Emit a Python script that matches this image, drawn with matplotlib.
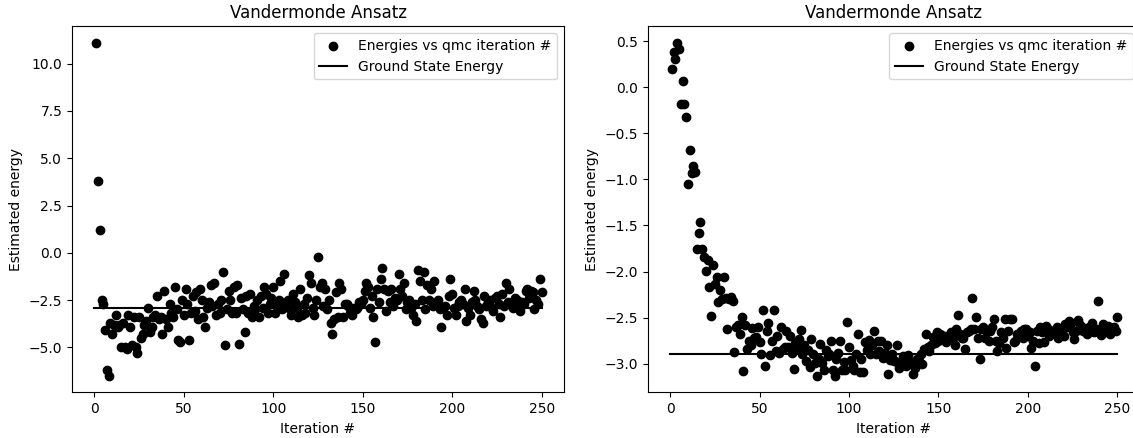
import numpy as np
import matplotlib
matplotlib.use("Agg")
import matplotlib.pyplot as plt

ground_state = -2.9
title = "Vandermonde Ansatz"
xlabel = "Iteration #"
ylabel = "Estimated energy"
scatter_label = "Energies vs qmc iteration #"
line_label = "Ground State Energy"

energies_left = [
    11.1, 3.8, 1.2, -2.5, -2.7, -4.1, -6.2, -6.5, -3.7, -4.3,
    -3.8, -3.3, -3.9, -3.8, -5.0, -3.7, -5.0, -5.1, -3.3, -3.9,
    -4.9, -3.4, -5.0, -5.3, -3.4, -4.5, -4.3, -3.8, -3.6, -2.9,
    -4.2, -3.9, -3.4, -3.3, -2.3, -3.5, -3.4, -4.3, -2.0, -3.5,
    -3.9, -2.7, -3.2, -3.4, -1.8, -3.0, -4.6, -4.7, -2.5, -3.3,
    -1.9, -2.7, -4.6, -3.2, -2.3, -3.1, -2.1, -3.5, -1.9, -2.5,
    -3.4, -3.9, -2.9, -2.6, -1.7, -2.8, -1.6, -3.3, -2.7, -3.2,
    -2.5, -1.0, -4.9, -3.0, -2.0, -2.5, -3.2, -1.8, -3.2, -1.7,
    -4.8, -2.4, -3.0, -4.2, -2.3, -3.2, -2.2, -3.4, -2.8, -3.0,
    -2.5, -3.4, -2.3, -2.9, -1.8, -2.2, -3.2, -2.7, -2.4, -1.8,
    -3.2, -2.8, -2.5, -1.5, -3.0, -1.1, -2.7, -2.5, -2.9, -3.3,
    -2.2, -2.6, -2.9, -3.4, -1.9, -3.3, -2.7, -3.2, -2.4, -1.2,
    -1.6, -2.9, -3.3, -2.5, -0.2, -1.8, -1.6, -2.8, -1.9, -3.0,
    -2.5, -3.7, -4.3, -3.5, -2.1, -3.4, -1.6, -1.9, -3.4, -2.7,
    -2.7, -2.8, -3.2, -3.3, -2.9, -3.0, -2.9, -2.6, -2.7, -2.5,
    -2.0, -1.6, -1.8, -2.9, -2.3, -3.4, -4.7, -1.9, -2.6, -1.4,
    -0.8, -1.9, -3.1, -2.0, -2.6, -1.9, -2.8, -2.4, -2.5, -1.1,
    -1.9, -2.3, -1.6, -3.0, -2.6, -2.5, -2.9, -3.3, -2.7, -3.6,
    -0.9, -1.5, -2.5, -1.0, -3.0, -1.7, -2.5, -1.9, -2.8, -1.5,
    -2.7, -2.5, -3.0, -3.9, -2.9, -2.8, -3.3, -2.3, -1.4, -2.2,
    -2.9, -3.3, -2.8, -2.6, -2.5, -2.7, -1.9, -3.6, -2.9, -3.3,
    -2.6, -2.0, -2.5, -2.8, -3.0, -3.5, -3.7, -2.3, -2.8, -2.6,
    -2.5, -2.9, -3.1, -2.4, -2.3, -2.7, -3.4, -2.2, -2.8, -1.6,
    -2.6, -1.9, -2.7, -2.9, -2.4, -2.5, -2.7, -3.1, -2.6, -2.7,
    -2.0, -1.9, -2.4, -2.0, -2.1, -3.0, -2.5, -2.7, -1.4, -2.1,
]

energies_right = [
    0.20, 0.38, 0.31, 0.48, 0.41, -0.18, 0.07, -0.18, -0.32, -1.05,
    -0.68, -0.93, -0.86, -0.92, -1.76, -1.58, -1.46, -1.76, -1.84, -1.99,
    -1.88, -2.17, -2.48, -1.93, -2.14, -2.06, -2.33, -2.20, -2.30, -2.06,
    -2.29, -2.62, -2.30, -2.28, -2.32, -2.87, -2.60, -2.58, -2.68, -2.49,
    -3.08, -2.58, -2.84, -2.75, -2.80, -2.61, -2.72, -2.71, -2.60, -2.77,
    -2.90, -2.42, -3.02, -2.64, -2.56, -2.91, -2.75, -2.42, -2.86, -2.70,
    -2.88, -2.60, -2.84, -2.82, -2.64, -2.82, -2.70, -2.88, -3.06, -2.78,
    -2.84, -2.73, -2.63, -2.90, -2.80, -2.97, -2.85, -3.04, -2.73, -2.90,
    -2.99, -3.13, -2.95, -2.79, -2.99, -3.07, -2.85, -2.92, -2.90, -2.75,
    -3.07, -3.13, -2.95, -2.88, -2.75, -3.07, -2.98, -3.07, -2.55, -2.82,
    -2.96, -3.02, -3.07, -2.90, -2.68, -3.09, -2.95, -3.09, -2.76, -2.85,
    -2.74, -2.90, -2.80, -2.64, -2.90, -2.75, -2.86, -2.75, -2.94, -2.88,
    -2.80, -3.11, -2.96, -2.90, -2.97, -2.97, -2.80, -3.05, -3.00, -2.92,
    -2.95, -3.02, -2.91, -2.98, -3.00, -3.11, -3.05, -2.95, -2.97, -2.90,
    -3.00, -2.84, -2.68, -2.82, -2.86, -2.80, -2.71, -2.78, -2.66, -2.75,
    -2.68, -2.72, -2.70, -2.76, -2.70, -2.72, -2.66, -2.72, -2.80, -2.62,
    -2.47, -2.68, -2.72, -2.72, -2.84, -2.66, -2.64, -2.62, -2.29, -2.62,
    -2.49, -2.72, -2.95, -2.62, -2.60, -2.72, -2.64, -2.75, -2.64, -2.60,
    -2.52, -2.75, -2.86, -2.78, -2.66, -2.72, -2.52, -2.83, -2.64, -2.52,
    -2.52, -2.77, -2.75, -2.68, -2.68, -2.64, -2.72, -2.62, -2.62, -2.70,
    -2.66, -2.83, -2.75, -3.02, -2.64, -2.78, -2.60, -2.66, -2.76, -2.59,
    -2.62, -2.70, -2.64, -2.64, -2.68, -2.60, -2.72, -2.66, -2.62, -2.70,
    -2.57, -2.60, -2.54, -2.56, -2.66, -2.73, -2.64, -2.53, -2.58, -2.60,
    -2.64, -2.62, -2.68, -2.60, -2.64, -2.56, -2.66, -2.62, -2.32, -2.64,
    -2.69, -2.57, -2.66, -2.64, -2.59, -2.68, -2.64, -2.60, -2.64, -2.49,
]

iterations = np.arange(1, len(energies_left) + 1)
line_span = [0, 250]

fig = plt.figure(figsize=(11.33, 4.38), dpi=100)
W, H = 1133, 438
bottom = (H - 392.3) / H
height = (392.3 - 26.3) / H
ax1 = fig.add_axes([72 / W, bottom, 492 / W, height])
ax2 = fig.add_axes([647.7 / W, bottom, 492 / W, height])

for ax, e in ((ax1, energies_left), (ax2, energies_right)):
    ax.scatter(iterations, e, color="black", label=scatter_label)
    ax.plot(line_span, [ground_state, ground_state], color="black", label=line_label)
    ax.set_title(title)
    ax.set_xlabel(xlabel)
    ax.set_ylabel(ylabel)
    ax.legend(loc="upper right")

fig.savefig("out.png", dpi=100)
